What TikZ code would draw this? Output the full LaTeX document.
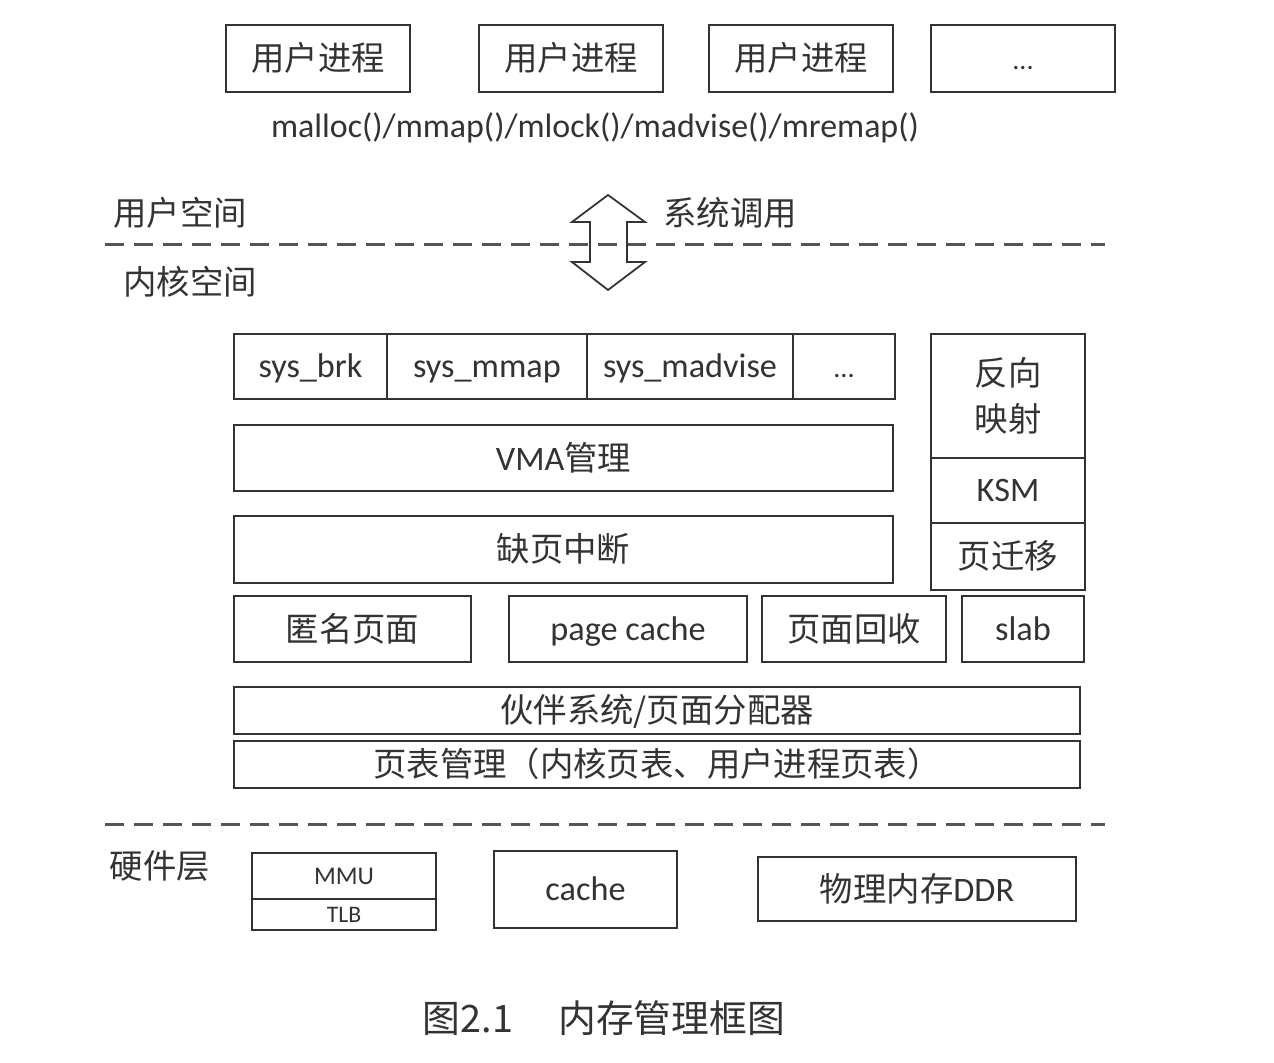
\documentclass[tikz,border=0pt]{standalone}
\usepackage{fontspec}
\setmainfont{Carlito}
\newfontfamily\cjk{Noto Sans CJK SC}
\usetikzlibrary{fit}
\definecolor{ink}{HTML}{333333}
\definecolor{dash}{HTML}{555555}
\tikzset{
  box/.style={draw=ink, line width=1.1pt, inner sep=0pt},
  txt/.style={text=ink, inner sep=0pt, text height=15.5pt, text depth=2.5pt, font=\fontsize{19.5}{21}\selectfont},
  lbl/.style={text=ink, inner sep=0pt, text height=16.5pt, text depth=2.3pt, font=\cjk\fontsize{19}{21}\selectfont},
  sep/.style={draw=dash, line width=1.7pt, dash pattern=on 11pt off 5.5pt},
  bigarrow/.style={draw=ink, line width=1pt}
}
\begin{document}
\begin{tikzpicture}[x=0.02cm, y=-0.02cm]
\useasboundingbox[fill=white] (0,0) rectangle (1274,1062);
% user processes
\node[box, fit={(226,25) (410,92)}] (p1) {};
\node[lbl] at (p1.center) {用户进程};
\node[box, fit={(479,25) (663,92)}] (p2) {};
\node[lbl] at (p2.center) {用户进程};
\node[box, fit={(709,25) (893,92)}] (p3) {};
\node[lbl] at (p3.center) {用户进程};
\node[box, fit={(931,25) (1115,92)}] (p4) {};
\node[txt, font=\fontsize{16}{18}\selectfont] at (p4.center) {...};
\node[txt, font=\fontsize{19.3}{21}\selectfont] (calls) at (595,126) {malloc()/mmap()/mlock()/madvise()/mremap()};
% user/kernel separator
\node[lbl] (us) at (180,213) {用户空间};
\node[lbl] (sc) at (730,213) {系统调用};
\node[lbl] (ks) at (190,282) {内核空间};
\coordinate (d1a) at (105,244);
\coordinate (d1b) at (1105,244);
\draw[sep] (d1a) -- (d1b);
\coordinate (at) at (608,195);
\coordinate (ab) at (608,290);
\draw[bigarrow] (at) -- (572,222) -- (590,222) -- (590,262) -- (572,262) -- (ab) -- (645,262) -- (627,262) -- (627,222) -- (645,222) -- cycle;
% syscalls row
\node[box, fit={(234,334) (387,399)}] (brk) {};
\node[txt] at (brk.center) {sys\_brk};
\node[box, fit={(387,334) (587,399)}] (mmap) {};
\node[txt] at (mmap.center) {sys\_mmap};
\node[box, fit={(587,334) (793,399)}] (madv) {};
\node[txt] at (madv.center) {sys\_madvise};
\node[box, fit={(793,334) (895,399)}] (sdots) {};
\node[txt, font=\fontsize{16}{18}\selectfont] at (sdots.center) {...};
% right column
\node[box, fit={(931,334) (1085,458)}] (rmap) {};
\node[text=ink, inner sep=0pt, align=center, font=\cjk\fontsize{19}{26}\selectfont] at (rmap.center) {反向\\映射};
\node[box, fit={(931,458) (1085,523)}] (ksm) {};
\node[txt] at (ksm.center) {KSM};
\node[box, fit={(931,523) (1085,590)}] (mig) {};
\node[lbl] at (mig.center) {页迁移};
% VMA, page fault
\node[box, fit={(234,425) (893,491)}] (vma) {};
\node[lbl] at (vma.center) {{\fontspec{Carlito}\fontsize{19.5}{21}\selectfont VMA}管理};
\node[box, fit={(234,516) (893,583)}] (pf) {};
\node[lbl] at (pf.center) {缺页中断};
% page types row
\node[box, fit={(234,596) (471,662)}] (anon) {};
\node[lbl] at (anon.center) {匿名页面};
\node[box, fit={(509,596) (747,662)}] (pc) {};
\node[txt] at (pc.center) {page cache};
\node[box, fit={(762,596) (946,662)}] (recl) {};
\node[lbl] at (recl.center) {页面回收};
\node[box, fit={(962,596) (1084,662)}] (slab) {};
\node[txt] at (slab.center) {slab};
% buddy, page table
\node[box, fit={(234,687) (1080,734)}] (buddy) {};
\node[lbl] at (buddy.center) {伙伴系统/页面分配器};
\node[box, fit={(234,741) (1080,788)}] (pt) {};
\node[lbl] at (pt.center) {页表管理（内核页表、用户进程页表）};
% kernel/hardware separator
\coordinate (d2a) at (105,824);
\coordinate (d2b) at (1105,824);
\draw[sep] (d2a) -- (d2b);
\node[lbl] (hw) at (160,866) {硬件层};
\node[box, fit={(252,853) (436,899)}] (mmu) {};
\node[txt, text height=10pt, text depth=0pt, font=\fontsize{14.5}{16}\selectfont] at (mmu.center) {MMU};
\node[box, fit={(252,899) (436,930)}] (tlb) {};
\node[txt, text height=9.5pt, text depth=0pt, font=\fontsize{13.5}{15}\selectfont] at (tlb.center) {TLB};
\node[box, fit={(494,851) (677,928)}] (hcache) {};
\node[txt] at (hcache.center) {cache};
\node[box, fit={(758,857) (1076,921)}] (ddr) {};
\node[lbl] at (ddr.center) {物理内存{\fontspec{Carlito}\fontsize{19.5}{21}\selectfont DDR}};
% caption
\node[text=ink, inner sep=0pt, font=\cjk\fontsize{21.5}{23}\selectfont] (cap) at (604,1018) {图2.1\hspace{1.2em}内存管理框图};
\end{tikzpicture}
\end{document}
